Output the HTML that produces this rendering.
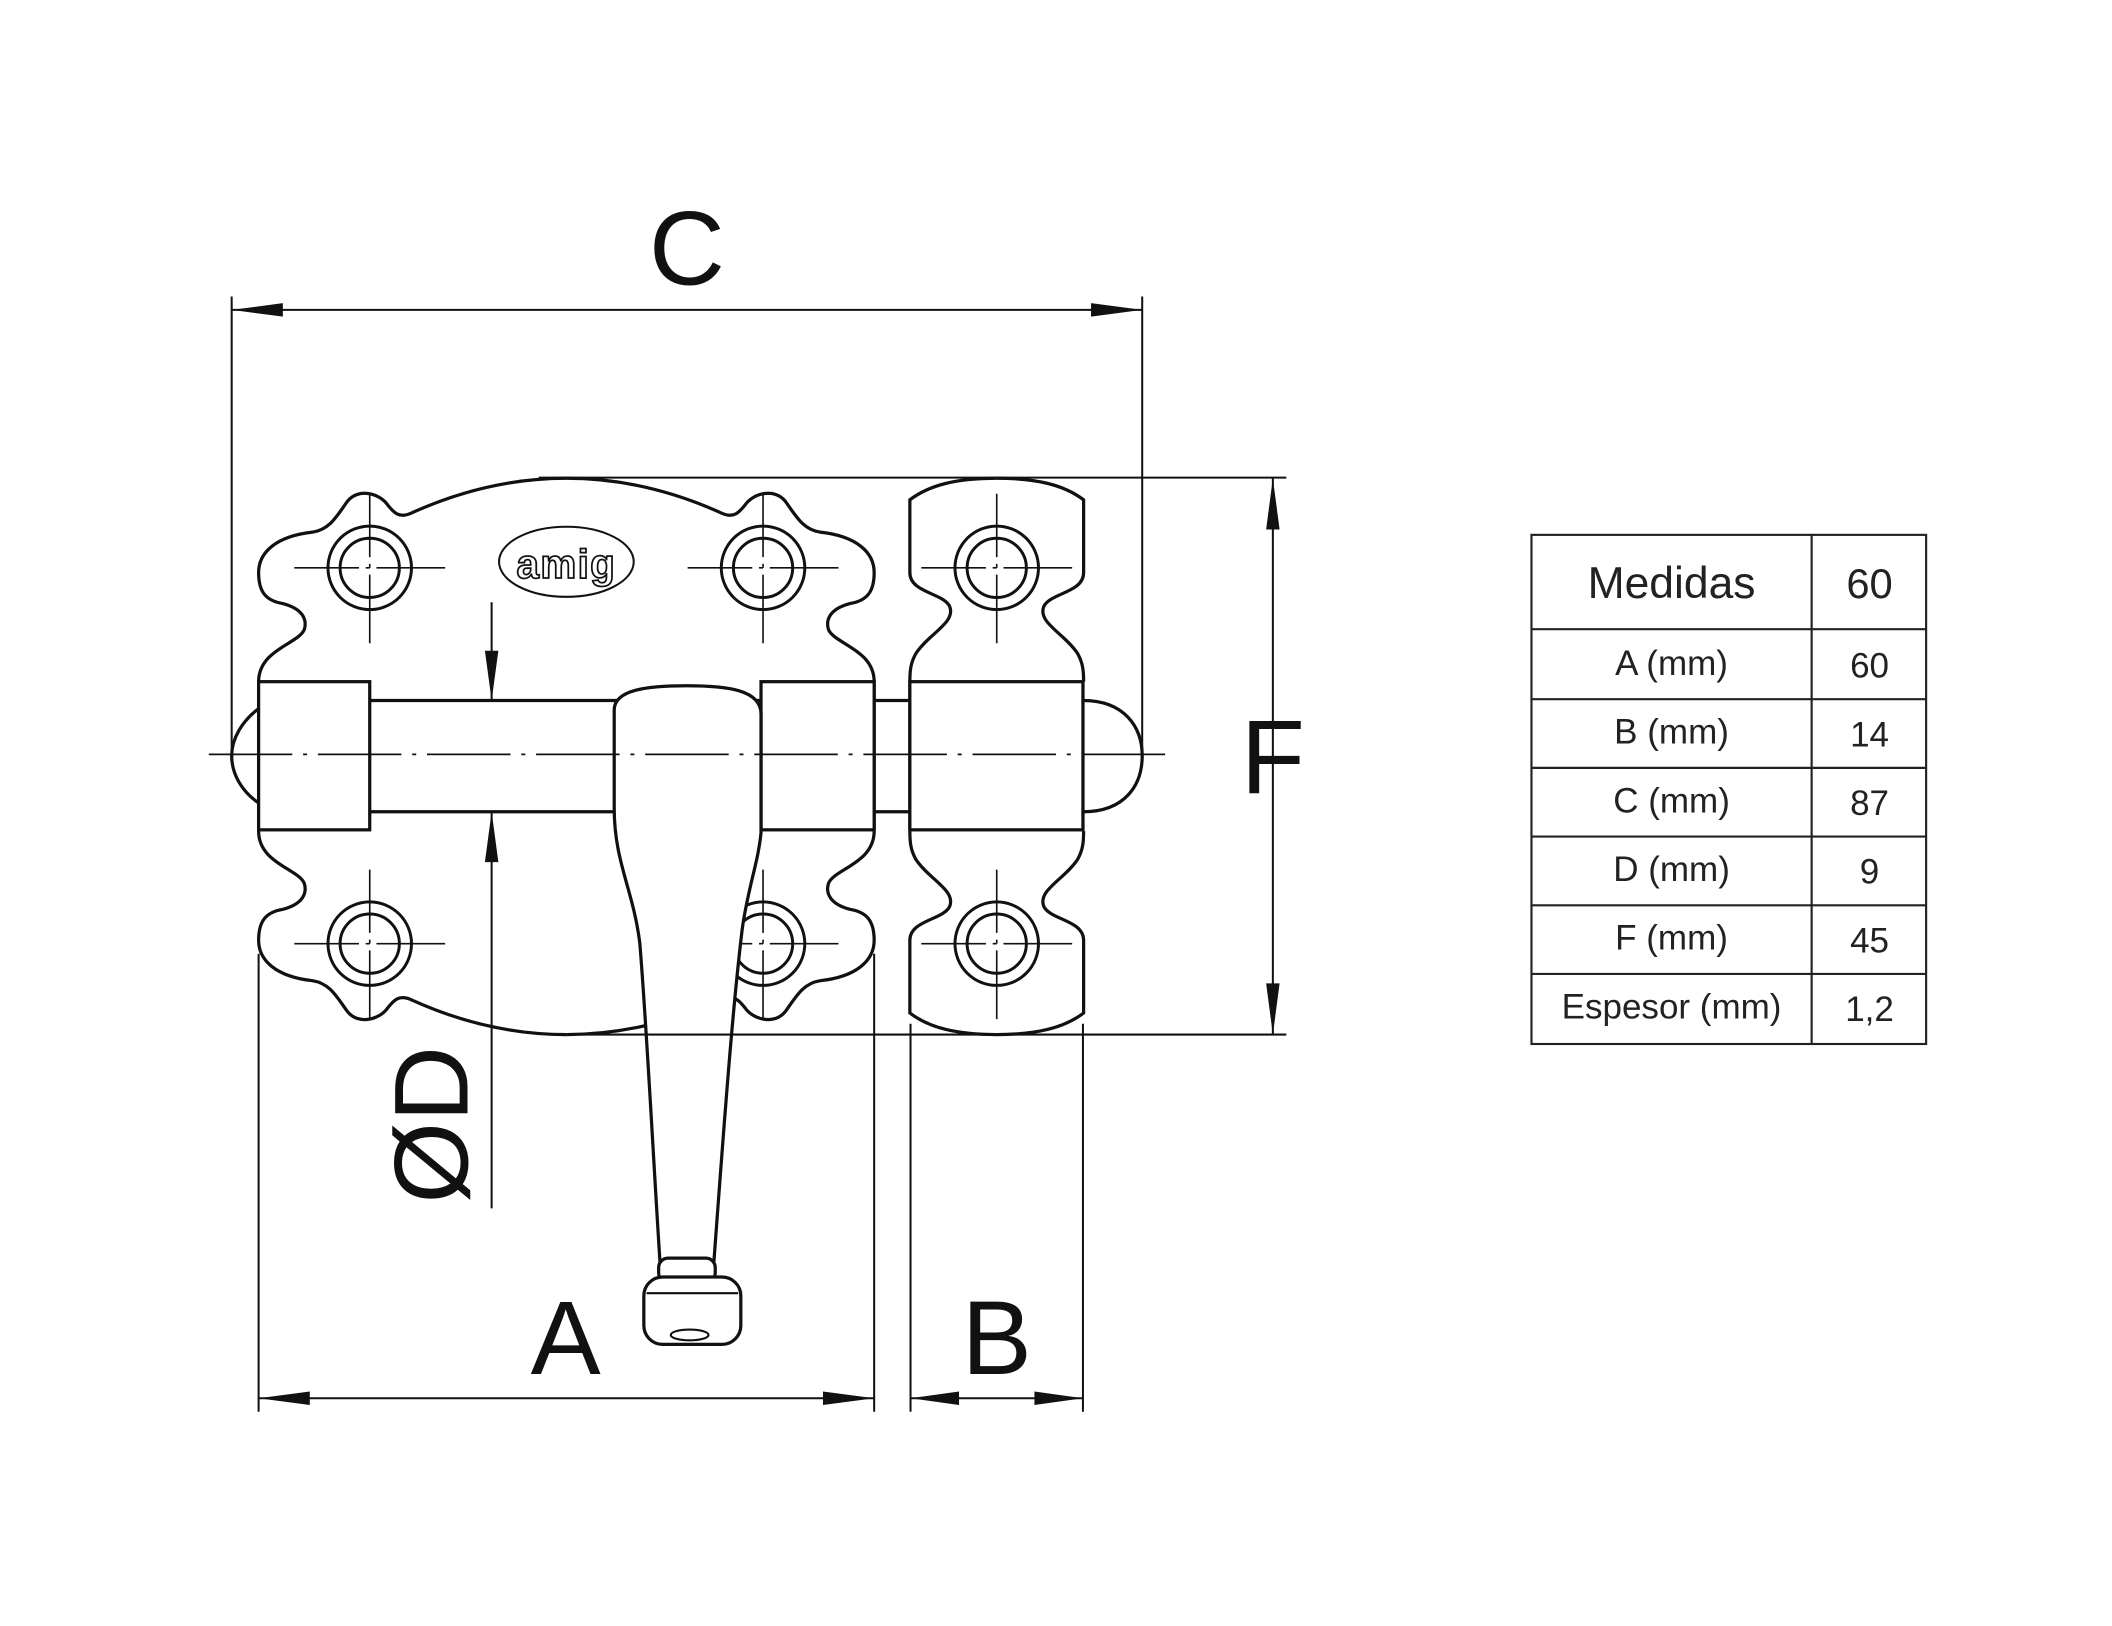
<!DOCTYPE html>
<html><head><meta charset="utf-8"><style>html,body{margin:0;padding:0;background:#fff}svg{display:block}</style></head>
<body>
<svg width="2112" height="1626" viewBox="0 0 1568 1207" xmlns="http://www.w3.org/2000/svg" font-family="'Liberation Sans', sans-serif">
<defs>
<path id="pq" d="M420.5,355 Q362,355 305,381 C296,385 292,380 288,375 C282,366 266,362 258,372 C250,383 245,393 232,395 C205,398 192,410 192,425 C192,440 198,446 210,448 C225,452 228,460 226,467 C222,478 192,482 192,506" fill="none"/>
<path id="rq" d="M740,355 C710,355 690,360 675.5,371 L675.5,425 C675.5,440 700,440 705,450 C710,462 690,470 680,485 C676,492 675.5,498 675.5,506" fill="none"/>
<g id="hole"><circle r="31" fill="none" stroke="#111" stroke-width="2.2"/><circle r="22" fill="none" stroke="#111" stroke-width="2.2"/>
<line x1="-56" y1="0" x2="56" y2="0" stroke="#111" stroke-width="1.2" stroke-dasharray="48 5 3 5 60"/><line x1="0" y1="-55" x2="0" y2="56" stroke="#111" stroke-width="1.2" stroke-dasharray="47 5 3 5 60"/></g>
</defs>
<rect width="1568" height="1207" fill="#fff"/>
<g stroke="#111" stroke-width="2.4" fill="none">
<use href="#pq"/><use href="#pq" transform="translate(841,0) scale(-1,1)"/>
<use href="#pq" transform="translate(0,1123) scale(1,-1)"/><use href="#pq" transform="translate(841,1123) scale(-1,-1)"/>
<use href="#rq"/><use href="#rq" transform="translate(1480,0) scale(-1,1)"/>
<use href="#rq" transform="translate(0,1123) scale(1,-1)"/><use href="#rq" transform="translate(1480,1123) scale(-1,-1)"/>
<line x1="192" y1="506" x2="192" y2="616"/><line x1="649" y1="506" x2="649" y2="616"/>
<line x1="675.5" y1="506" x2="675.5" y2="616"/><line x1="804" y1="506" x2="804" y2="616"/>
</g>
<use href="#hole" x="274.5" y="421.5"/><use href="#hole" x="566.5" y="421.5"/><use href="#hole" x="740" y="421.5"/>
<use href="#hole" x="274.5" y="700.5"/><use href="#hole" x="566.5" y="700.5"/><use href="#hole" x="740" y="700.5"/>
<!-- logo -->
<ellipse cx="420.5" cy="417" rx="50" ry="26" fill="none" stroke="#111" stroke-width="1.5"/>
<text x="420.5" y="429" font-size="30" text-anchor="middle" font-weight="bold" fill="none" stroke="#111" stroke-width="1.3" letter-spacing="1">amig</text>
<!-- bolt -->
<g stroke="#111" stroke-width="2.4" fill="#fff">
<rect x="192" y="506" width="82.5" height="110"/>
<rect x="565" y="506" width="84" height="110"/>
<rect x="675.5" y="506" width="128.5" height="110"/>
<line x1="274.5" y1="520" x2="565" y2="520"/><line x1="274.5" y1="602.6" x2="565" y2="602.6"/>
<line x1="649" y1="520" x2="675.5" y2="520"/><line x1="649" y1="602.6" x2="675.5" y2="602.6"/>
<path d="M804,520 C835,520 848,540 848,561 C848,583 835,602.6 804,602.6" fill="none"/>
<path d="M192,526 C180,535 172,548 172,561 C172,575 180,588 192,596" fill="none"/>
<path d="M456,527 C456,512 480,509 510,509 C540,509 565,512 565,530 L565,618 C563,640 555,660 551,690 C545,740 540,800 530,937 L490,937 C485,860 480,760 475,700 C470,660 456,640 456,600 Z"/>
<rect x="489" y="934" width="42" height="18" rx="7"/>
<rect x="478" y="948" width="72" height="50" rx="14"/>
<line x1="480" y1="960" x2="548" y2="960" stroke-width="1.6"/>
<ellipse cx="512" cy="991" rx="14" ry="4" stroke-width="1.6"/>
</g>
<line x1="155" y1="560" x2="865" y2="560" stroke="#111" stroke-width="1.3" stroke-dasharray="62 8 3 8"/>
<!-- dimension lines -->
<g stroke="#111" stroke-width="1.5" fill="none">
<line x1="172" y1="220" x2="172" y2="560"/><line x1="848" y1="220" x2="848" y2="560"/>
<line x1="172" y1="230" x2="848" y2="230"/>
<line x1="400" y1="354.5" x2="955" y2="354.5"/><line x1="430" y1="768" x2="955" y2="768"/>
<line x1="945" y1="355" x2="945" y2="768"/>
<line x1="365" y1="447" x2="365" y2="520"/><line x1="365" y1="602.6" x2="365" y2="897"/>
<line x1="192" y1="708" x2="192" y2="1048"/><line x1="649" y1="708" x2="649" y2="1048"/>
<line x1="192" y1="1038" x2="649" y2="1038"/>
<line x1="676" y1="760" x2="676" y2="1048"/><line x1="804" y1="760" x2="804" y2="1048"/>
<line x1="676" y1="1038" x2="804" y2="1038"/>
</g>
<g fill="#111">
<path d="M172,230 L210,225 L210,235 Z"/><path d="M848,230 L810,225 L810,235 Z"/>
<path d="M945,355 L940,393 L950,393 Z"/><path d="M945,768 L940,730 L950,730 Z"/>
<path d="M365,520 L360,483 L370,483 Z"/><path d="M365,602.6 L360,640 L370,640 Z"/>
<path d="M192,1038 L230,1033 L230,1043 Z"/><path d="M649,1038 L611,1033 L611,1043 Z"/>
<path d="M676,1038 L712,1033 L712,1043 Z"/><path d="M804,1038 L768,1033 L768,1043 Z"/>
</g>
<g font-size="78" fill="#111" text-anchor="middle">
<text x="510" y="211">C</text>
<text x="945" y="589">F</text>
<text x="420" y="1020">A</text>
<text x="740" y="1020">B</text>
<text transform="translate(347,835) rotate(-90)">ØD</text>
</g>
<!-- table -->
<g stroke="#222" stroke-width="1.6" fill="none">
<rect x="1137" y="397" width="293" height="378"/>
<line x1="1345" y1="397" x2="1345" y2="775"/>
<line x1="1137" y1="467" x2="1430" y2="467"/><line x1="1137" y1="519" x2="1430" y2="519"/>
<line x1="1137" y1="570" x2="1430" y2="570"/><line x1="1137" y1="621" x2="1430" y2="621"/>
<line x1="1137" y1="672" x2="1430" y2="672"/><line x1="1137" y1="723" x2="1430" y2="723"/>
</g>
<g font-size="26" fill="#222" text-anchor="middle">
<text x="1241" y="444" font-size="33">Medidas</text><text x="1388" y="444" font-size="31">60</text>
<text x="1241" y="501">A (mm)</text><text x="1388" y="503">60</text>
<text x="1241" y="552">B (mm)</text><text x="1388" y="554">14</text>
<text x="1241" y="603">C (mm)</text><text x="1388" y="605">87</text>
<text x="1241" y="654">D (mm)</text><text x="1388" y="656">9</text>
<text x="1241" y="705">F (mm)</text><text x="1388" y="707">45</text>
<text x="1241" y="756">Espesor (mm)</text><text x="1388" y="758">1,2</text>
</g>
</svg>
</body></html>
